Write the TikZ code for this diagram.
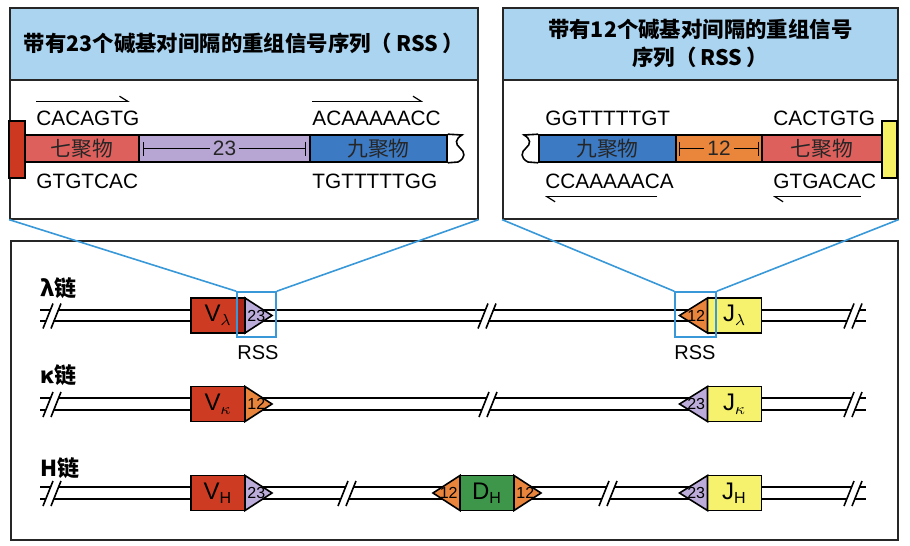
\documentclass[tikz,border=0pt]{standalone}
\usepackage{fontspec}
\setmainfont{Liberation Sans}
\newfontfamily\cjk{Noto Sans CJK SC}
\usetikzlibrary{arrows.meta}

\definecolor{hdrblue}{RGB}{170,212,240}
\definecolor{heptred}{RGB}{222,96,92}
\definecolor{spacerpurp}{RGB}{183,165,212}
\definecolor{nonblue}{RGB}{60,122,196}
\definecolor{capred}{RGB}{204,56,32}
\definecolor{spacerorange}{RGB}{233,134,60}
\definecolor{capyellow}{RGB}{246,240,100}
\definecolor{vred}{RGB}{205,60,34}
\definecolor{vdark}{RGB}{170,36,24}
\definecolor{rsspurp}{RGB}{188,172,218}
\definecolor{rssorange}{RGB}{232,132,60}
\definecolor{jyellow}{RGB}{246,242,110}
\definecolor{dgreen}{RGB}{62,150,74}
\definecolor{zoomblue}{RGB}{56,152,216}

\begin{document}
\begin{tikzpicture}[x=0.5pt,y=-0.5pt]
        \tikzset{panel/.style={draw=black!85,line width=0.8pt,anchor=north west,inner sep=0pt},
            hdr/.style={panel,fill=hdrblue,align=center,
                font=\cjk\bfseries\fontsize{10.7}{14}\selectfont},
            seg/.style={draw,line width=0.8pt,minimum height=13.5pt,inner sep=0pt,
                text=black!85,font=\cjk\fontsize{10.4}{12}\selectfont},
            seq/.style={anchor=west,inner sep=0pt,font=\fontsize{10.4}{12}\selectfont},
            gene/.style={draw,line width=0.8pt,minimum width=27pt,minimum height=17.5pt,
                inner sep=0pt,outer sep=0pt,font=\fontsize{12}{14}\selectfont},
            rss/.style={draw,line width=0.8pt},
            tri/.style={inner sep=1pt,font=\fontsize{8}{9}\selectfont},
            zoom/.style={draw=zoomblue,line width=0.8pt},
            row/.style={anchor=west,inner sep=0pt,font=\cjk\bfseries\fontsize{11}{13}\selectfont},
            harp/.style={line width=0.6pt,-{Straight Barb[harpoon,length=4pt,width=5pt]}},
            gap/.style={{Bar[width=7pt]}-{Bar[width=7pt]},line width=0.5pt},
            brk/.pic={\fill[white] (-8,11) -- (1,-11) -- (8,-11) -- (-1,11) -- cycle;
                \draw[line width=0.8pt] (-9,13) -- (1,-12) (-1,13) -- (9,-12);}}
        \useasboundingbox (0,0) rectangle (910,546);
        % left panel: 23 bp spacer
        \node[panel,minimum width=234pt,minimum height=105.5pt] (pL) at (9,7) {};
        \node[hdr,minimum width=234pt,minimum height=36pt] (hL) at (9,7)
            {带有23个碱基对间隔的重组信号序列（\hspace{0.2em}RSS\hspace{0.2em}）};
        \node[seg,fill=capred,minimum width=8pt,minimum height=28.5pt] (capL) at (17,149.5) {};
        \node[seg,fill=heptred,minimum width=57pt] (h7L) at (82,148.5) {七聚物};
        \node[seg,fill=spacerpurp,minimum width=85.5pt] (s23) at (224.5,148.5) {};
        \node[seg,fill=nonblue,minimum width=68.5pt] (n9L) at (378.5,148.5) {九聚物};
        \draw[line width=0.8pt] (n9L.north east) -- (462,135)
            .. controls (455,139) and (455,144) .. (460,148)
            .. controls (465,152) and (466,158) .. (458,162) -- (n9L.south east);
        \draw[gap] ([xshift=2.5pt]s23.west) -- ([xshift=-2.5pt]s23.east)
            node[midway,fill=spacerpurp,inner sep=1.5pt,text=black!85,
                font=\fontsize{10.4}{12}\selectfont] (n23) {23};
        \node[seq] (sqA) at (36,118) {CACAGTG};
        \node[seq] (sqB) at (312,118) {ACAAAAACC};
        \node[seq] (sqC) at (36,181) {GTGTCAC};
        \node[seq] (sqD) at (312,181) {TGTTTTTGG};
        \draw[harp] ([yshift=4.5pt]sqA.north west) -- ([yshift=4.5pt,xshift=-5pt]sqA.north east);
        \draw[harp] ([yshift=4.5pt]sqB.north west) -- ([yshift=4.5pt,xshift=-9pt]sqB.north east);
        % right panel: 12 bp spacer
        \node[panel,minimum width=197.5pt,minimum height=105.5pt] (pR) at (502,7) {};
        \node[hdr,minimum width=197.5pt,minimum height=36pt] (hR) at (502,7)
            {带有12个碱基对间隔的重组信号\\序列（\hspace{0.2em}RSS\hspace{0.2em}）};
        \node[seg,fill=nonblue,minimum width=68.5pt] (n9R) at (607.5,148.5) {九聚物};
        \node[seg,fill=spacerorange,minimum width=43pt] (s12) at (719,148.5) {};
        \node[seg,fill=heptred,minimum width=60pt] (h7R) at (822,148.5) {七聚物};
        \node[seg,fill=capyellow,minimum width=7.5pt,minimum height=28.5pt] (capR) at (889.5,149.5) {};
        \draw[line width=0.8pt] (n9R.north west) -- (524,135)
            .. controls (531,139) and (531,144) .. (526,148)
            .. controls (521,152) and (520,158) .. (528,162) -- (n9R.south west);
        \draw[gap] ([xshift=2pt]s12.west) -- ([xshift=-2pt]s12.east)
            node[midway,fill=spacerorange,inner sep=1.5pt,text=black!85,
                font=\fontsize{10.4}{12}\selectfont] (n12) {12};
        \node[seq] (sqE) at (545,118) {GGTTTTTGT};
        \node[seq] (sqF) at (773,118) {CACTGTG};
        \node[seq] (sqG) at (545,181) {CCAAAAACA};
        \node[seq] (sqH) at (773,181) {GTGACAC};
        \draw[harp] ([yshift=-4pt,xshift=-8.5pt]sqG.south east) -- ([yshift=-4pt]sqG.south west);
        \draw[harp] ([yshift=-4pt,xshift=-8pt]sqH.south east) -- ([yshift=-4pt]sqH.south west);
        % bottom panel: the three loci
        \node[panel,minimum width=443.5pt,minimum height=149.5pt] (pB) at (10,240) {};
        \node[row] (labL) at (40,288) {λ链};
        \node[row] (labK) at (40,375) {κ链};
        \node[row] (labH) at (40,468) {H链};
        \foreach \i/\y in {1/315.5,2/404,3/493} {
            \coordinate (rowL\i) at (40,\y);
            \coordinate (rowR\i) at (866,\y);
            \draw[line width=0.8pt] ([yshift=2.875pt]rowL\i) -- ([yshift=2.875pt]rowR\i)
                ([yshift=-2.875pt]rowL\i) -- ([yshift=-2.875pt]rowR\i);
        }
        \foreach \x/\y in {52/315.5,487/315.5,853/315.5,52/404,488/404,853/404,
                52/493,347/493,608/493,853/493}
            \pic at (\x,\y) {brk};
        % lambda
        \node[gene,fill=vred] (Vl) at (218,315.5) {V\textsubscript{$\lambda$}};
        \fill[vdark] ([xshift=-4pt]Vl.north east) rectangle (Vl.south east);
        \draw[line width=0.8pt] (Vl.north west) rectangle (Vl.south east);
        \draw[rss,fill=rsspurp] (Vl.north east) -- ++(27,17.5) -- (Vl.south east) -- cycle;
        \node[tri,anchor=west] (tVl) at (Vl.east) {23};
        \node[gene,fill=jyellow] (Jl) at (734.5,315.5) {J\textsubscript{$\lambda$}};
        \draw[rss,fill=rssorange] (Jl.north west) -- ++(-28,17.5) -- (Jl.south west) -- cycle;
        \node[tri,anchor=east] (tJl) at (Jl.west) {12};
        % kappa
        \node[gene,fill=vred] (Vk) at (218,404) {V\textsubscript{$\kappa$}};
        \draw[rss,fill=rssorange] (Vk.north east) -- ++(27,17.5) -- (Vk.south east) -- cycle;
        \node[tri,anchor=west] (tVk) at (Vk.east) {12};
        \node[gene,fill=jyellow] (Jk) at (734.5,404) {J\textsubscript{$\kappa$}};
        \draw[rss,fill=rsspurp] (Jk.north west) -- ++(-28,17.5) -- (Jk.south west) -- cycle;
        \node[tri,anchor=east] (tJk) at (Jk.west) {23};
        % heavy chain
        \node[gene,fill=vred] (Vh) at (218,493) {V\textsubscript{H}};
        \draw[rss,fill=rsspurp] (Vh.north east) -- ++(27,17.5) -- (Vh.south east) -- cycle;
        \node[tri,anchor=west] (tVh) at (Vh.east) {23};
        \node[gene,fill=dgreen] (Dh) at (487,493) {D\textsubscript{H}};
        \draw[rss,fill=rssorange] (Dh.north west) -- ++(-27,17.5) -- (Dh.south west) -- cycle;
        \draw[rss,fill=rssorange] (Dh.north east) -- ++(27,17.5) -- (Dh.south east) -- cycle;
        \node[tri,anchor=east] (tDa) at (Dh.west) {12};
        \node[tri,anchor=west] (tDb) at (Dh.east) {12};
        \node[gene,fill=jyellow] (Jh) at (734.5,493) {J\textsubscript{H}};
        \draw[rss,fill=rsspurp] (Jh.north west) -- ++(-28,17.5) -- (Jh.south west) -- cycle;
        \node[tri,anchor=east] (tJh) at (Jh.west) {23};
        % zoom boxes
        \node[zoom,minimum width=19.5pt,minimum height=22.5pt,inner sep=0pt] (rssL) at (256.5,314.5) {};
        \node[zoom,minimum width=20.5pt,minimum height=22.5pt,inner sep=0pt] (rssR) at (695.5,314.5) {};
        \node[font=\fontsize{10}{12}\selectfont] (lblL) at (258,353) {RSS};
        \node[font=\fontsize{10}{12}\selectfont] (lblR) at (695,353) {RSS};
        \draw[zoom] (pL.south west) -- (rssL.north west) (pL.south east) -- (rssL.north east);
        \draw[zoom] (pR.south west) -- (rssR.north west) (pR.south east) -- (rssR.north east);
    \end{tikzpicture}
\end{document}
